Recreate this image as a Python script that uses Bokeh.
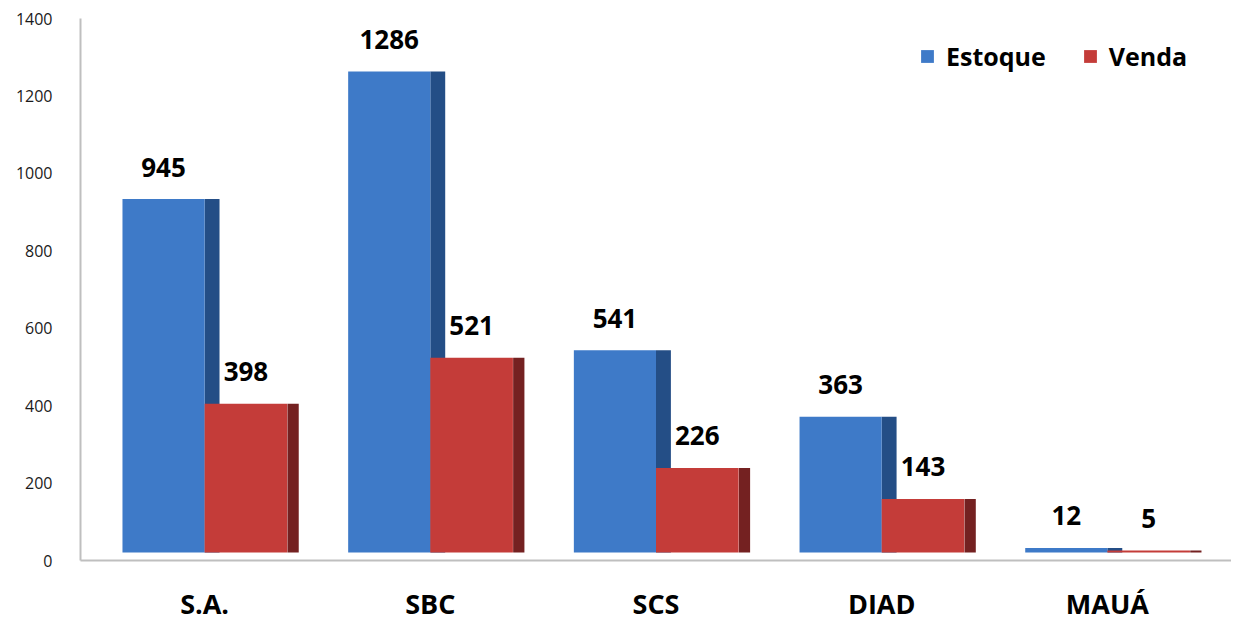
from bokeh.plotting import figure
from bokeh.models import FactorRange, Range1d, ColumnDataSource, Legend, LegendItem, FixedTicker
from bokeh.transform import dodge
from bokeh.core.properties import value
from bokeh.embed import file_html
from bokeh.resources import INLINE

categories = ["S.A.", "SBC", "SCS", "DIAD", "MAUÁ"]
estoque = [945, 1286, 541, 363, 12]
venda = [398, 521, 226, 143, 5]
y_ticks = [0, 200, 400, 600, 800, 1000, 1200, 1400]

src = ColumnDataSource(dict(
    cat=categories,
    estoque=estoque,
    venda=venda,
    est_lbl=[str(v) for v in estoque],
    ven_lbl=[str(v) for v in venda],
))

FONT_NAME = "Open Sans"
FONT = value(FONT_NAME)

p = figure(
    width=1231, height=624,
    x_range=FactorRange(*categories, range_padding=0.05, range_padding_units="absolute"),
    y_range=Range1d(0, 1400),
    output_backend="svg", toolbar_location=None,
    min_border_left=80, min_border_right=0, min_border_top=18, min_border_bottom=0,
    outline_line_color=None, background_fill_color="white",
)
# bars sit slightly above the axis zero (3D floor in the original)
p.extra_y_ranges = {"bars": Range1d(-21.5, 1428)}

xr = p.x_range
BLUE, BLUE_SIDE = "#3E7AC8", "#244E86"
RED, RED_SIDE = "#C43C39", "#742121"

# side faces
p.vbar(x=dodge("cat", 0.033, range=xr), top="estoque", width=0.066, bottom=0,
       y_range_name="bars", source=src, fill_color=BLUE_SIDE, line_color=None)
r_est = p.vbar(x=dodge("cat", -0.182, range=xr), top="estoque", width=0.364, bottom=0,
               y_range_name="bars", source=src, fill_color=BLUE, line_color=None)
p.vbar(x=dodge("cat", 0.392, range=xr), top="venda", width=0.05, bottom=0,
       y_range_name="bars", source=src, fill_color=RED_SIDE, line_color=None)
r_ven = p.vbar(x=dodge("cat", 0.183, range=xr), top="venda", width=0.366, bottom=0,
               y_range_name="bars", source=src, fill_color=RED, line_color=None)

for col, lbl, off in (("estoque", "est_lbl", -0.182), ("venda", "ven_lbl", 0.183)):
    p.text(x=dodge("cat", off, range=xr), y=col, text=lbl, y_range_name="bars", source=src,
           y_offset=-32, text_align="center", text_baseline="alphabetic",
           text_font=FONT, text_font_style="bold", text_font_size="26px", text_color="black")

legend = Legend(
    items=[LegendItem(label="Estoque", renderers=[r_est]), LegendItem(label="Venda", renderers=[r_ven])],
    orientation="horizontal", location=(839, 487), padding=0, margin=0, spacing=36,
    glyph_width=16, glyph_height=16, label_standoff=11,
    label_text_font=FONT_NAME, label_text_font_style="bold", label_text_font_size="25px",
    label_text_color="black", border_line_color=None, background_fill_alpha=0,
)
p.add_layout(legend, "center")

p.xgrid.grid_line_color = None
p.ygrid.grid_line_color = None

p.yaxis.ticker = FixedTicker(ticks=y_ticks)
p.yaxis.axis_line_color = "#BFBFBF"
p.yaxis.axis_line_width = 2
p.yaxis.major_tick_line_color = None
p.yaxis.minor_tick_line_color = None
p.yaxis.major_tick_out = 0
p.yaxis.major_label_standoff = 28
p.yaxis.major_label_text_font = FONT_NAME
p.yaxis.major_label_text_font_size = "16px"
p.yaxis.major_label_text_color = "#1A1A1A"

p.xaxis.axis_line_color = "#BFBFBF"
p.xaxis.axis_line_width = 2
p.xaxis.major_tick_line_color = None
p.xaxis.major_tick_out = 0
p.xaxis.major_label_standoff = 24
p.xaxis.major_label_text_font = FONT_NAME
p.xaxis.major_label_text_font_style = "bold"
p.xaxis.major_label_text_font_size = "27px"
p.xaxis.major_label_text_line_height = 1.0
p.xaxis.major_label_text_color = "black"

open("out.html", "w").write(file_html(p, INLINE))
